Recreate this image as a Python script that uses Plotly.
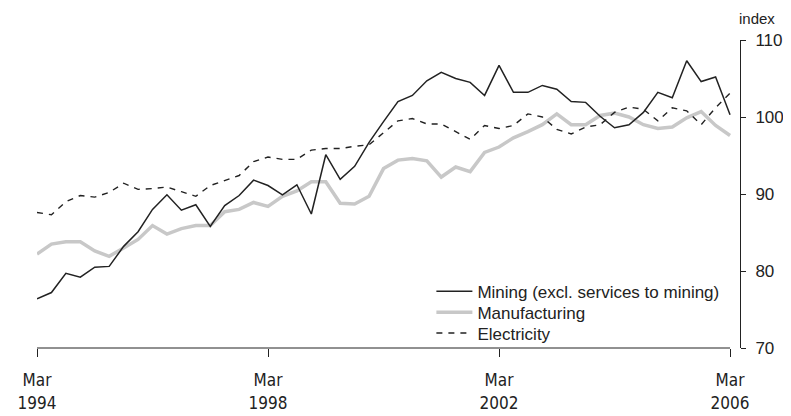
import plotly.graph_objects as go

quarters = [f"Mar-{1994 + i // 4}" if i % 4 == 0 else f"Q{i % 4 + 1}-{1994 + i // 4}" for i in range(49)]

mining = [76.4, 77.2, 79.7, 79.2, 80.5, 80.6, 83.2, 85.1, 88.0, 89.9,
          87.9, 88.6, 85.8, 88.5, 89.8, 91.8, 91.1, 89.9, 91.2, 87.4,
          95.1, 91.9, 93.6, 96.7, 99.4, 102.0, 102.8, 104.7, 105.8, 105.0,
          104.5, 102.8, 106.7, 103.2, 103.2, 104.1, 103.6, 102.0, 101.9, 100.1,
          98.6, 99.0, 100.6, 103.2, 102.5, 107.3, 104.6, 105.2, 100.3]
manufacturing = [82.2, 83.5, 83.8, 83.8, 82.6, 81.9, 83.0, 84.1, 85.9, 84.8,
                 85.5, 85.9, 85.9, 87.7, 88.0, 88.9, 88.4, 89.7, 90.4, 91.6,
                 91.6, 88.8, 88.7, 89.7, 93.3, 94.4, 94.6, 94.3, 92.2, 93.5,
                 92.9, 95.4, 96.1, 97.3, 98.1, 99.0, 100.4, 99.0, 99.0, 100.2,
                 100.5, 100.0, 99.0, 98.5, 98.7, 99.9, 100.7, 98.9, 97.6]
electricity = [87.6, 87.3, 89.0, 89.8, 89.6, 90.2, 91.4, 90.6, 90.7, 90.9,
               90.3, 89.7, 91.1, 91.7, 92.4, 94.2, 94.8, 94.5, 94.5, 95.7,
               95.9, 95.9, 96.2, 96.4, 98.0, 99.5, 99.8, 99.1, 99.1, 98.1,
               97.1, 98.9, 98.5, 98.9, 100.4, 100.0, 98.4, 97.8, 98.7, 99.0,
               100.6, 101.3, 101.0, 99.5, 101.2, 100.8, 99.0, 101.2, 103.1]

tick_vals = ["Mar-1994", "Mar-1998", "Mar-2002", "Mar-2006"]
tick_text = ["Mar<br>1994", "Mar<br>1998", "Mar<br>2002", "Mar<br>2006"]
y_ticks = [70, 80, 90, 100, 110]

legend_style = dict(xanchor="left", yanchor="middle", bgcolor="rgba(0,0,0,0)",
                    font=dict(size=17), itemwidth=36)

fig = go.Figure()
fig.add_trace(go.Scatter(x=quarters, y=manufacturing, mode="lines", name="Manufacturing",
                         line=dict(color="#c8c8c8", width=3.5), legend="legend2"))
fig.add_trace(go.Scatter(x=quarters, y=electricity, mode="lines", name="Electricity",
                         line=dict(color="#222222", width=1.4, dash="6px,6px"), legend="legend3"))
fig.add_trace(go.Scatter(x=quarters, y=mining, mode="lines", name="Mining (excl. services to mining)",
                         line=dict(color="#222222", width=1.5), legend="legend"))

# x-axis baseline running from the first to the last quarter only
fig.add_shape(type="line", xref="x", yref="paper", x0=quarters[0], x1=quarters[-1], y0=0, y1=0,
              line=dict(color="#222222", width=1), layer="above")

fig.update_layout(
    width=783, height=408,
    margin=dict(l=29, r=51, t=32, b=68),
    paper_bgcolor="white", plot_bgcolor="white",
    font=dict(family="Liberation Sans, Arial, sans-serif", color="#222222", size=16),
    showlegend=True,
    legend=dict(x=0.561, y=0.183, **legend_style),
    legend2=dict(x=0.561, y=0.115, **legend_style),
    legend3=dict(x=0.561, y=0.047, **legend_style),
    xaxis=dict(type="category", range=[0, 48.69], automargin=False,
               tickmode="array", tickvals=tick_vals, ticktext=tick_text,
               showgrid=False, zeroline=False, showline=False,
               ticks="outside", ticklen=8, tickcolor="#222222", ticklabelstandoff=9,
               tickfont=dict(family="DejaVu Sans Condensed, Liberation Sans Narrow, sans-serif", size=17)),
    yaxis=dict(range=[70, 110], side="right", anchor="x", automargin=False,
               tickmode="array", tickvals=y_ticks,
               showgrid=False, zeroline=False, showline=True, linecolor="#222222", linewidth=1,
               ticks="outside", ticklen=5, tickcolor="#222222", ticklabelstandoff=6,
               tickfont=dict(size=17)),
    annotations=[dict(text="index", xref="paper", yref="paper", x=1.0, y=1.07,
                      xanchor="left", yanchor="middle", xshift=-3, showarrow=False,
                      font=dict(size=15))],
)

fig.write_html("out.html")
